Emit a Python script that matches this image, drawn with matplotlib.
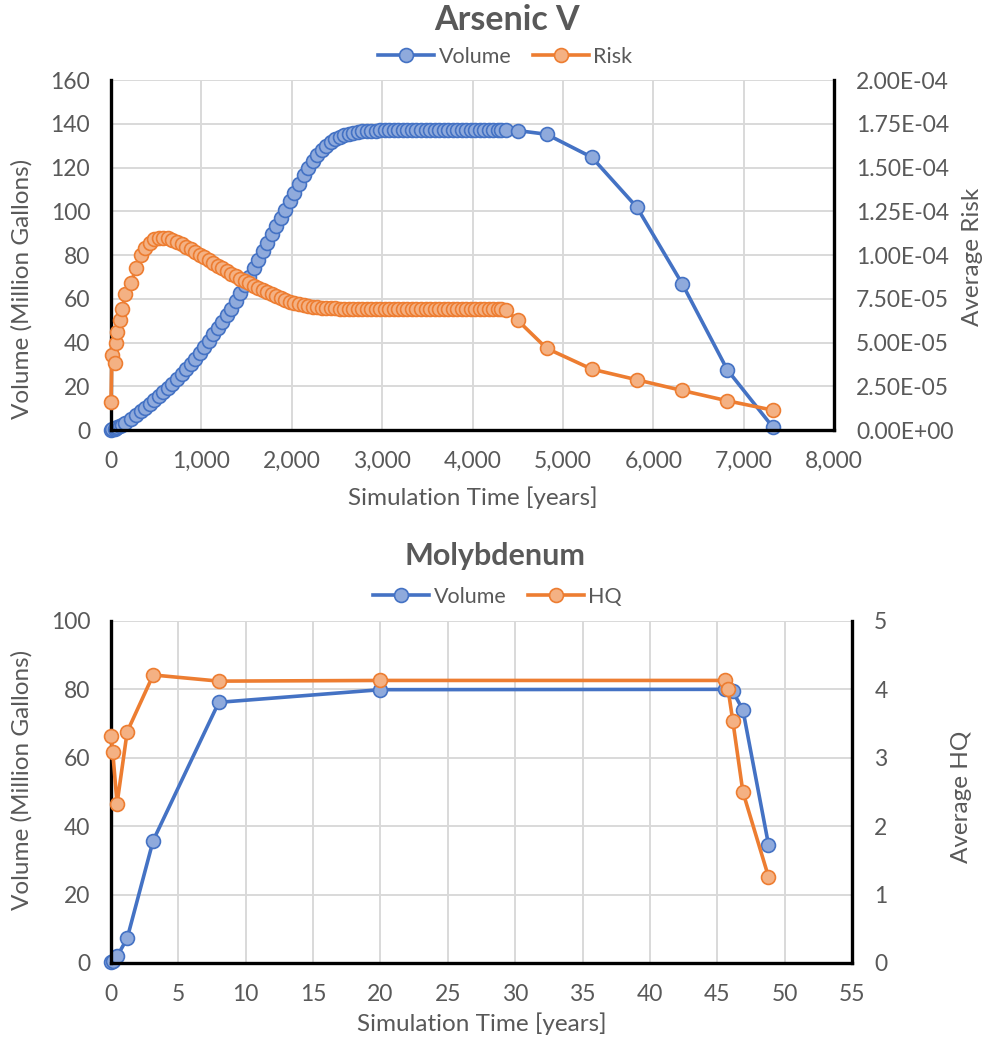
import numpy as np
import matplotlib.pyplot as plt
from matplotlib.ticker import FuncFormatter, MultipleLocator

plt.rcParams['font.family'] = ['Lato', 'DejaVu Sans']

# Arsenic V - simulation time (years), volume (million gallons), risk (x1e-5)
as_time = [0, 10, 40, 50, 70, 100, 125, 160, 220, 280, 330,
           380, 430, 480, 530, 580, 630, 680, 730, 780, 830,
           880, 930, 980, 1030, 1080, 1130, 1180, 1230, 1280, 1330,
           1380, 1430, 1480, 1530, 1580, 1630, 1680, 1730, 1780, 1830,
           1880, 1930, 1980, 2030, 2080, 2130, 2180, 2230, 2280, 2330,
           2380, 2430, 2480, 2530, 2580, 2630, 2680, 2730, 2780, 2830,
           2880, 2930, 2980, 3030, 3080, 3130, 3180, 3230, 3280, 3330,
           3380, 3430, 3480, 3530, 3580, 3630, 3680, 3730, 3780, 3830,
           3880, 3930, 3980, 4030, 4080, 4130, 4180, 4230, 4280,
           4320, 4370, 4500, 4820, 5320, 5820, 6320, 6820, 7320]

as_volume = [0.2, 0.3, 0.7, 0.9, 1.3, 1.9, 2.5, 3.3, 5.0, 7.0, 8.6,
             10.2, 11.9, 13.6, 15.4, 17.3, 19.2, 21.2, 23.3, 25.5, 27.8,
             30.2, 32.7, 35.3, 38.0, 40.8, 43.7, 46.6, 49.5, 52.5, 55.5,
             59.0, 62.5, 66.2, 70.0, 73.9, 77.8, 81.7, 85.6, 89.4, 93.1,
             96.8, 100.6, 104.5, 108.5, 112.5, 116.4, 120.0, 123.2, 125.9, 128.1,
             130.0, 131.6, 132.9, 133.9, 134.7, 135.3, 135.8, 136.2, 136.5, 136.7,
             136.8, 136.9, 137.0, 137.0, 137.1, 137.1, 137.1, 137.2, 137.2, 137.2,
             137.2, 137.2, 137.2, 137.2, 137.2, 137.2, 137.2, 137.2, 137.2, 137.2,
             137.2, 137.2, 137.2, 137.2, 137.2, 137.2, 137.2, 137.2, 137.2,
             137.2, 137.1, 136.9, 135.2, 124.7, 101.8, 66.9, 27.5, 1.5]

as_risk_e5 = [1.6, 4.27, 3.82, 4.96, 5.6, 6.3, 6.93, 7.75, 8.4, 9.27, 10.0,
              10.4, 10.7, 10.9, 11.0, 11.0, 10.95, 10.85, 10.75, 10.62, 10.48,
              10.33, 10.18, 10.03, 9.88, 9.72, 9.56, 9.40, 9.24, 9.09, 8.94,
              8.79, 8.65, 8.51, 8.38, 8.25, 8.12, 7.99, 7.87, 7.75, 7.64,
              7.53, 7.43, 7.34, 7.26, 7.19, 7.13, 7.08, 7.04, 7.01, 6.99,
              6.97, 6.96, 6.95, 6.94, 6.94, 6.93, 6.93, 6.93, 6.93, 6.93,
              6.93, 6.93, 6.93, 6.93, 6.93, 6.93, 6.93, 6.93, 6.93, 6.93,
              6.93, 6.93, 6.93, 6.93, 6.93, 6.93, 6.93, 6.93, 6.93, 6.93,
              6.93, 6.93, 6.93, 6.93, 6.93, 6.93, 6.93, 6.93, 6.93,
              6.90, 6.85, 6.27, 4.67, 3.48, 2.87, 2.26, 1.67, 1.14]

# Molybdenum - simulation time (years), volume (million gallons), HQ
mo_time = [0, 0.13, 0.45, 1.2, 3.13, 8.0, 20.0, 45.6, 45.8, 46.15, 46.9, 48.8]
mo_volume = [0.2, 0.5, 1.9, 7.2, 35.8, 76.2, 79.9, 80.0, 80.0, 79.4, 74.0, 34.6]
mo_hq = [3.32, 3.08, 2.33, 3.38, 4.21, 4.12, 4.13, 4.13, 4.0, 3.54, 2.5, 1.26]

BLUE, BLUE_FACE = "#4472C4", "#8FAADC"
ORANGE, ORANGE_FACE = "#ED7D31", "#F4B183"
TEXT = "#595959"
GRID = "#D9D9D9"
TICK_FS = 16.5
LABEL_FS = 17.5
LEGEND_FS = 15.5

line_style = dict(lw=2.6, marker="o", ms=10, mew=1.2, clip_on=False)

fig = plt.figure(figsize=(9.85, 10.38), dpi=100)


def make_panel(rect, title, title_x, title_y, title_fs, legend_x, legend_y,
               x, vol, sec, sec_label, xmax, xstep, ymax, ystep, smax, sstep,
               sfmt, xfmt, xlab_y, ylab_xy, y2lab_xy):
    ax = fig.add_axes(rect)
    ax2 = ax.twinx()

    l1, = ax.plot(x, vol, color=BLUE, mfc=BLUE_FACE, mec=BLUE, label="Volume", **line_style)
    l2, = ax2.plot(x, sec, color=ORANGE, mfc=ORANGE_FACE, mec=ORANGE, label=sec_label, **line_style)

    ax.set_xlim(0, xmax)
    ax.set_ylim(0, ymax)
    ax2.set_ylim(0, smax)
    ax.xaxis.set_major_locator(MultipleLocator(xstep))
    ax.yaxis.set_major_locator(MultipleLocator(ystep))
    ax2.yaxis.set_major_locator(MultipleLocator(sstep))
    ax.xaxis.set_major_formatter(FuncFormatter(xfmt))
    ax2.yaxis.set_major_formatter(FuncFormatter(sfmt))

    ax.grid(True, color=GRID, lw=1.4)
    ax.set_axisbelow(True)

    for a in (ax, ax2):
        for s in a.spines.values():
            s.set_visible(False)
    ax.spines["left"].set_visible(True)
    ax.spines["bottom"].set_visible(True)
    ax2.spines["right"].set_visible(True)
    for s in (ax.spines["left"], ax.spines["bottom"], ax2.spines["right"]):
        s.set_color("black")
        s.set_linewidth(2.4)

    ax.tick_params(axis="both", length=0, labelsize=TICK_FS, labelcolor=TEXT)
    ax.tick_params(axis="x", pad=15)
    ax.tick_params(axis="y", pad=15)
    ax2.tick_params(axis="y", length=0, labelsize=TICK_FS, labelcolor=TEXT, pad=16)

    ax.set_xlabel("Simulation Time [years]", fontsize=LABEL_FS, color=TEXT)
    ax.set_ylabel("Volume (Million Gallons)", fontsize=LABEL_FS, color=TEXT)
    ax2.set_ylabel("Average " + sec_label, fontsize=LABEL_FS, color=TEXT)
    ax.xaxis.set_label_coords(0.5, xlab_y)
    ax.yaxis.set_label_coords(*ylab_xy)
    ax2.yaxis.set_label_coords(*y2lab_xy)
    ax.xaxis.label.set_va("center")
    ax.yaxis.label.set_va("center")
    ax2.yaxis.label.set_va("center")

    fig.text(title_x, title_y, title, ha="center", va="center", fontsize=title_fs,
             fontweight="bold", color=TEXT)
    fig.legend([l1, l2], ["Volume", sec_label], loc="center",
               bbox_to_anchor=(legend_x, legend_y), ncol=2, frameon=False,
               fontsize=LEGEND_FS, labelcolor=TEXT, handlelength=2.6,
               handletextpad=0.2, columnspacing=1.0)
    return ax, ax2


make_panel([0.1127, 0.5857, 0.734, 0.3372], "Arsenic V", 0.515, 1 - 20 / 1038, 24.5,
           0.513, 1 - 57 / 1038,
           as_time, as_volume, np.array(as_risk_e5) * 1e-5, "Risk",
           8000, 1000, 160, 20, 2e-4, 2.5e-5,
           lambda v, p: f"{v:.2E}", lambda v, p: f"{v:,.0f}",
           -0.194, (-0.123, 0.403), (1.191, 0.494))

make_panel([0.1127, 0.0723, 0.7523, 0.3295], "Molybdenum", 0.503, 1 - 556 / 1038, 22,
           0.505, 1 - 597 / 1038,
           mo_time, mo_volume, mo_hq, "HQ",
           55, 5, 100, 20, 5, 1,
           lambda v, p: f"{v:.0f}", lambda v, p: f"{v:.0f}",
           -0.178, (-0.120, 0.535), (1.148, 0.485))

fig.savefig("out.png", dpi=100)
